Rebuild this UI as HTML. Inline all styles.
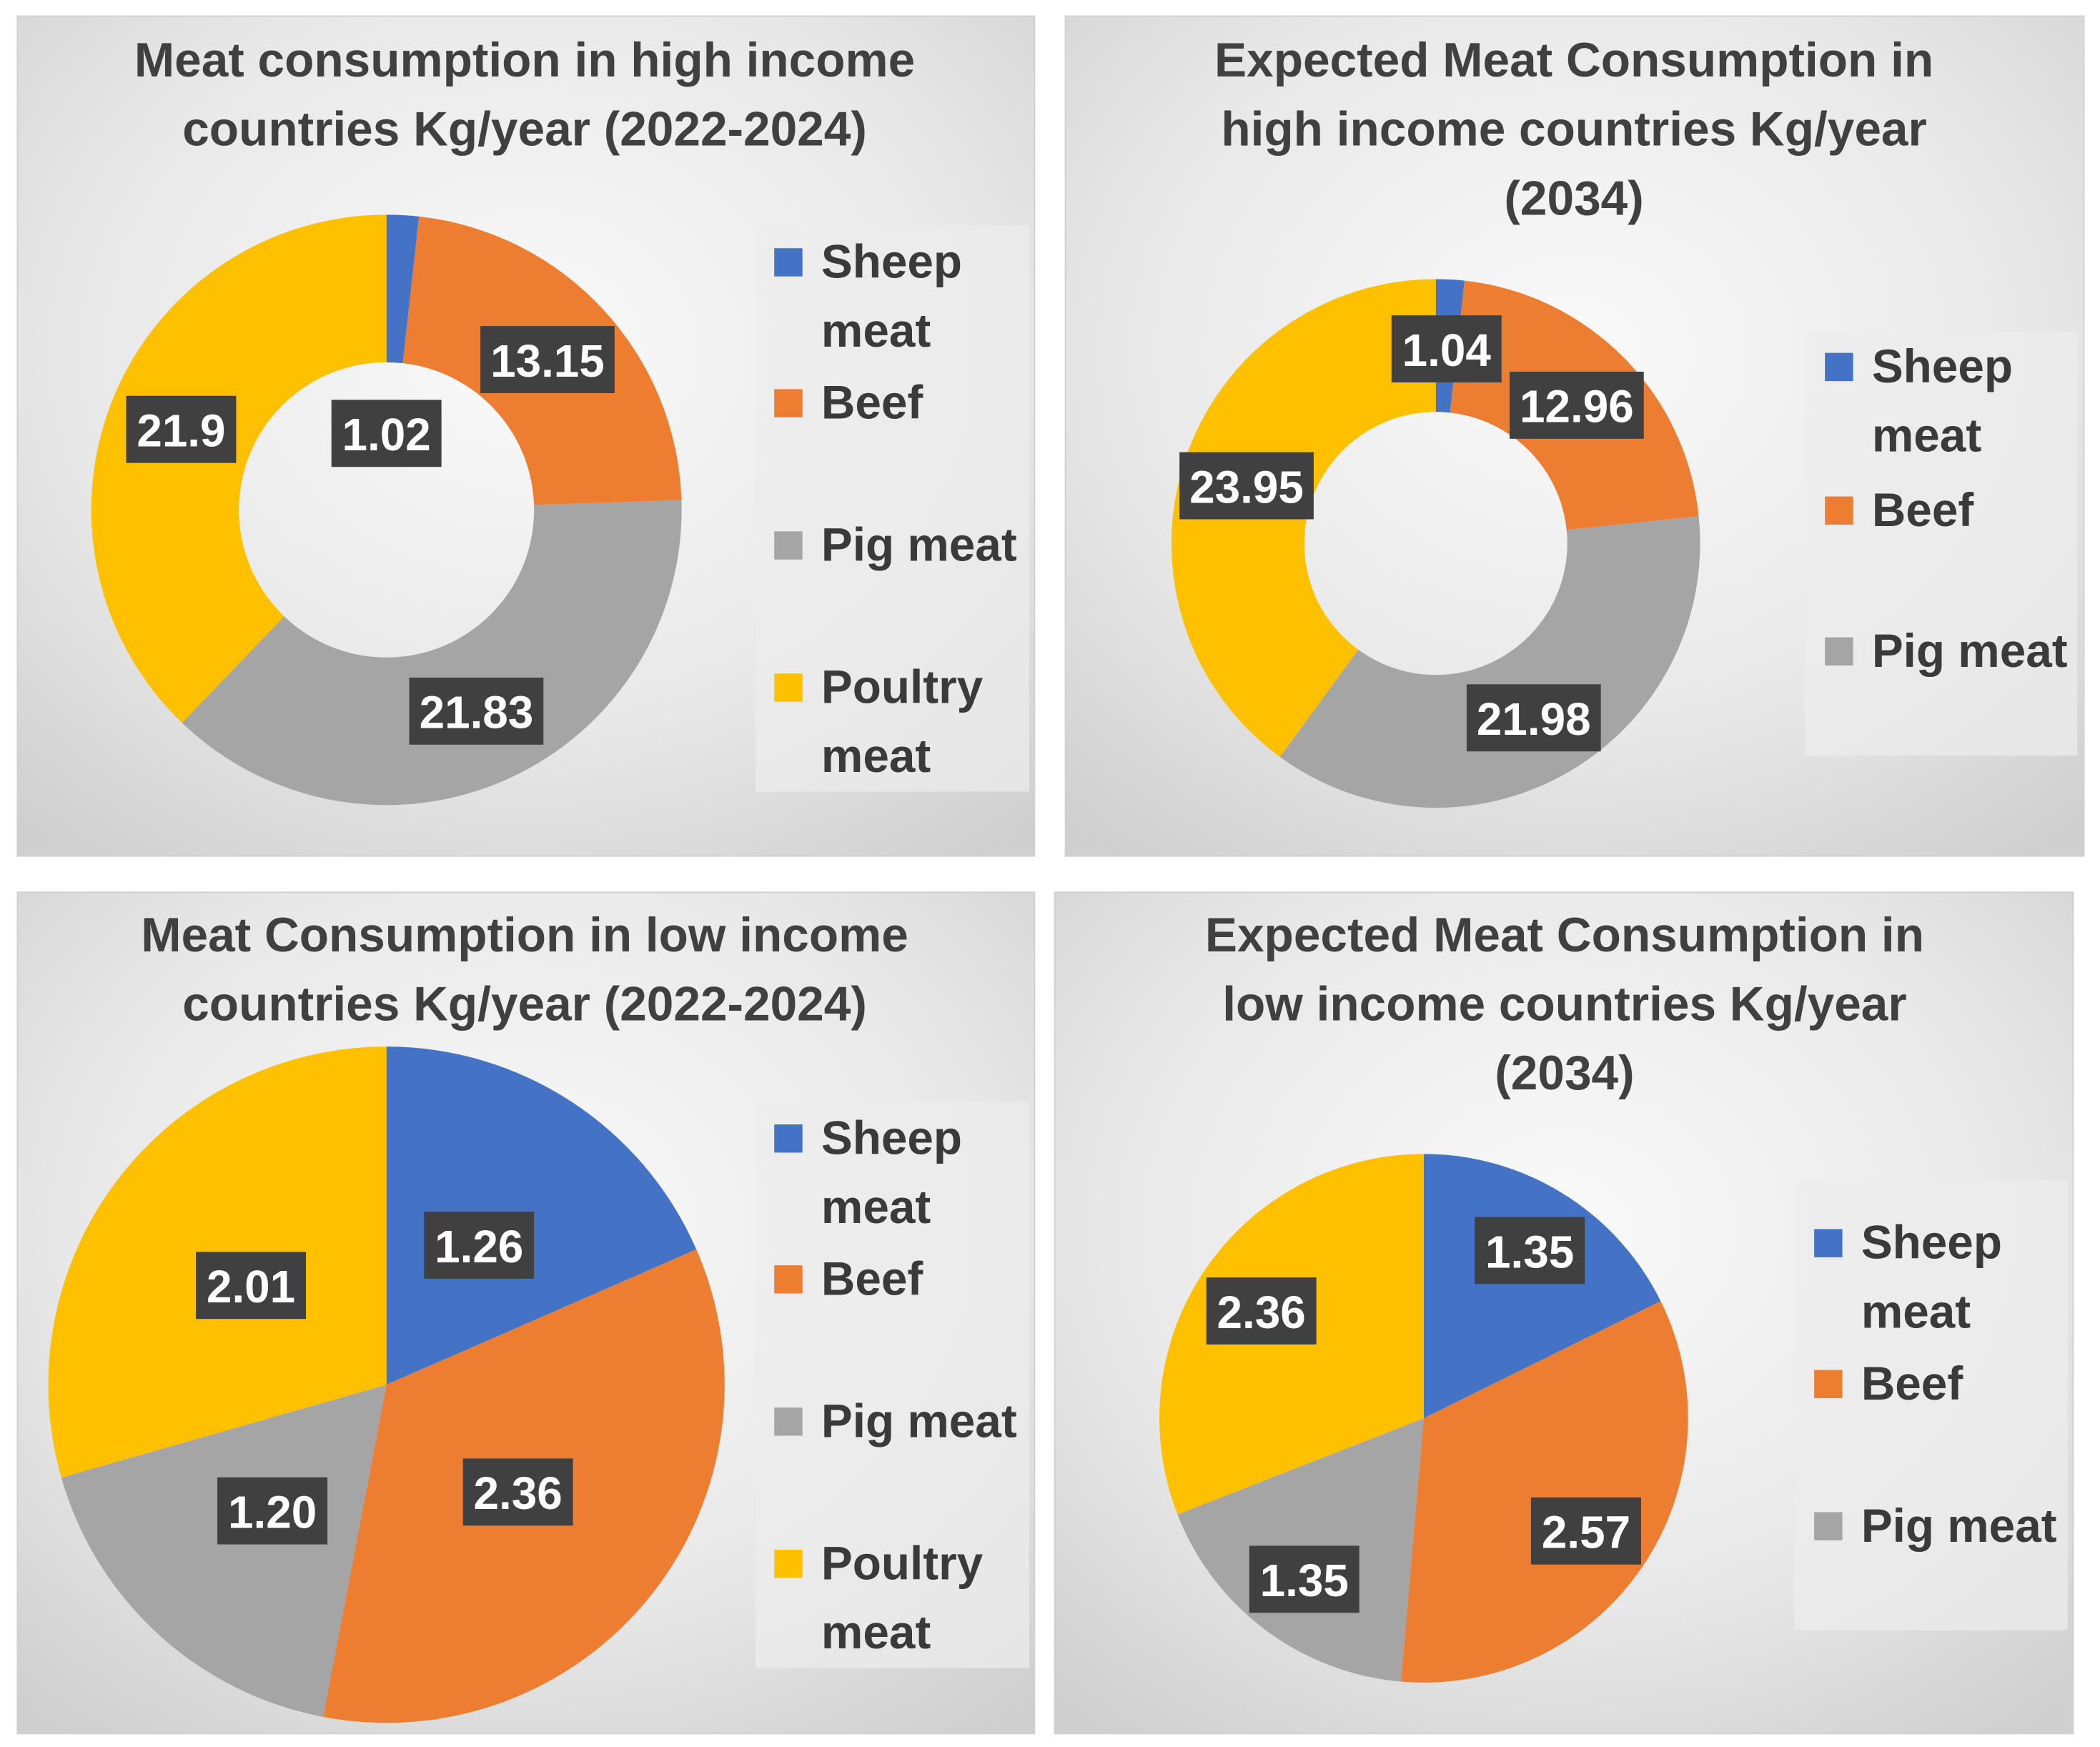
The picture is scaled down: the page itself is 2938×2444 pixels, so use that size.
<!DOCTYPE html>
<html><head><meta charset="utf-8"><style>
html,body{margin:0;padding:0;background:#fff;}
svg{display:block;font-family:"Liberation Sans",sans-serif;}
</style></head><body>
<svg id="root" width="2938" height="2444" viewBox="0 0 1565 1302" preserveAspectRatio="none" xmlns="http://www.w3.org/2000/svg">
<defs>
<radialGradient id="bg" cx="50%" cy="40%" r="75%">
<stop offset="0" stop-color="#fafafa"/><stop offset="0.6" stop-color="#e8e8e8"/><stop offset="1" stop-color="#cfcfcf"/>
</radialGradient>
</defs>
</svg>
<script>
// Chart data
const categories = ["Sheep meat", "Beef", "Pig meat", "Poultry meat"];
const highNow = [1.02, 13.15, 21.83, 21.9];
const highNowLabels = ["1.02", "13.15", "21.83", "21.9"];
const high2034 = [1.04, 12.96, 21.98, 23.95];
const high2034Labels = ["1.04", "12.96", "21.98", "23.95"];
const lowNow = [1.26, 2.36, 1.20, 2.01];
const lowNowLabels = ["1.26", "2.36", "1.20", "2.01"];
const low2034 = [1.35, 2.57, 1.35, 2.36];
const low2034Labels = ["1.35", "2.57", "1.35", "2.36"];
const colors = ["#4472C4", "#ED7D31", "#A5A5A5", "#FFC000"];

const NS = "http://www.w3.org/2000/svg";
const root = document.getElementById('root');
function mk(tag, attrs, parent) {
  const e = document.createElementNS(NS, tag);
  for (const k in attrs) e.setAttribute(k, attrs[k]);
  (parent || root).appendChild(e);
  return e;
}
function pt(cx, cy, r, a) { return [cx + r * Math.sin(a), cy - r * Math.cos(a)]; }

const panels = [
  {id:"high-now", x:13, y:12, w:758, h:626, title:["Meat consumption in high income","countries Kg/year (2022-2024)"], ty:45, tx:391,
   cx:288, cy:380, r:220, ir:110, vals:highNow, labs:highNowLabels,
   lpos:[[288,323],[408,268],[355,530],[135,320]],
   leg:{x:563,y:168,w:204,h:422,sq:577,items:[[0,["Sheep","meat"],195],[1,["Beef"],300],[2,["Pig meat"],406],[3,["Poultry","meat"],512]]}},
  {id:"high-2034", x:794, y:12, w:759, h:626, title:["Expected Meat Consumption in","high income countries Kg/year","(2034)"], ty:45, tx:1173,
   cx:1070, cy:405, r:197, ir:98, vals:high2034, labs:high2034Labels,
   lpos:[[1078,260],[1175,302],[1143,535],[929,362]],
   leg:{x:1345,y:247,w:203,h:316,sq:1360,items:[[0,["Sheep","meat"],273],[1,["Beef"],380],[2,["Pig meat"],485]]}},
  {id:"low-now", x:13, y:665, w:758, h:627, title:["Meat Consumption in low income","countries Kg/year (2022-2024)"], ty:697, tx:391,
   cx:288, cy:1032, r:252, ir:0, vals:lowNow, labs:lowNowLabels,
   lpos:[[357,928],[386,1112],[203,1126],[187,958]],
   leg:{x:563,y:821,w:204,h:422,sq:577,items:[[0,["Sheep","meat"],848],[1,["Beef"],953],[2,["Pig meat"],1059],[3,["Poultry","meat"],1165]]}},
  {id:"low-2034", x:786, y:665, w:759, h:627, title:["Expected Meat Consumption in","low income countries Kg/year","(2034)"], ty:697, tx:1166,
   cx:1061, cy:1057, r:197, ir:0, vals:low2034, labs:low2034Labels,
   lpos:[[1140,932],[1182,1141],[972,1177],[940,977]],
   leg:{x:1337,y:880,w:204,h:335,sq:1352,items:[[0,["Sheep","meat"],926],[1,["Beef"],1031],[2,["Pig meat"],1137]]}}
];

panels.forEach(p => {
  const g = mk('g', {});
  
  
  const bg = mk('rect', {x:p.x, y:p.y, width:p.w, height:p.h, fill:'url(#bg)', stroke:'#d0d0d0', 'stroke-width':1}, g);
  
  
  p.title.forEach((t, i) => {
    const tt = mk('text', {x:p.tx, y:p.ty + i * 51.5, 'text-anchor':'middle', 'dominant-baseline':'central', 'font-size':36, 'font-weight':'bold', fill:'#404040'}, g);
    tt.textContent = t;
    
    
  });
  const total = p.vals.reduce((a, b) => a + b, 0);
  let acc = 0;
  p.vals.forEach((v, i) => {
    const a0 = acc / total * 2 * Math.PI; acc += v;
    const a1 = acc / total * 2 * Math.PI;
    const large = (a1 - a0) > Math.PI ? 1 : 0;
    const [x0, y0] = pt(p.cx, p.cy, p.r, a0), [x1, y1] = pt(p.cx, p.cy, p.r, a1);
    let d;
    if (p.ir > 0) {
      const [ix0, iy0] = pt(p.cx, p.cy, p.ir, a0), [ix1, iy1] = pt(p.cx, p.cy, p.ir, a1);
      d = `M${x0},${y0}A${p.r},${p.r} 0 ${large} 1 ${x1},${y1}L${ix1},${iy1}A${p.ir},${p.ir} 0 ${large} 0 ${ix0},${iy0}Z`;
    } else {
      d = `M${p.cx},${p.cy}L${x0},${y0}A${p.r},${p.r} 0 ${large} 1 ${x1},${y1}Z`;
    }
    const s = mk('path', {d:d, fill:colors[i], stroke:'none'}, g);
    
    
  });
  p.labs.forEach((l, i) => {
    const [lx, ly] = p.lpos[i];
    const w = l.length * 18 + 10;
    const r = mk('rect', {x:lx - w / 2, y:ly - 25, width:w, height:50, fill:'#404040'}, g);
    
    
    const t = mk('text', {x:lx, y:ly + 1, 'text-anchor':'middle', 'dominant-baseline':'central', 'font-size':34, 'font-weight':'bold', fill:'#fff'}, g);
    t.textContent = l;
    
    
  });
  const L = p.leg;
  const lg = mk('rect', {x:L.x, y:L.y, width:L.w, height:L.h, fill:'#ececec', opacity:0.75}, g);
  
  
  L.items.forEach(it => {
    const [ci, lines, yy] = it;
    const sq = mk('rect', {x:L.sq, y:yy - 10, width:21, height:21, fill:colors[ci]}, g);
    
    
    lines.forEach((ln, j) => {
      const t = mk('text', {x:L.sq + 35, y:yy + j * 51.5, 'dominant-baseline':'central', 'font-size':35, 'font-weight':'bold', fill:'#3a3a3a'}, g);
      t.textContent = ln;
      
      
    });
  });
});
</script>
</body></html>
